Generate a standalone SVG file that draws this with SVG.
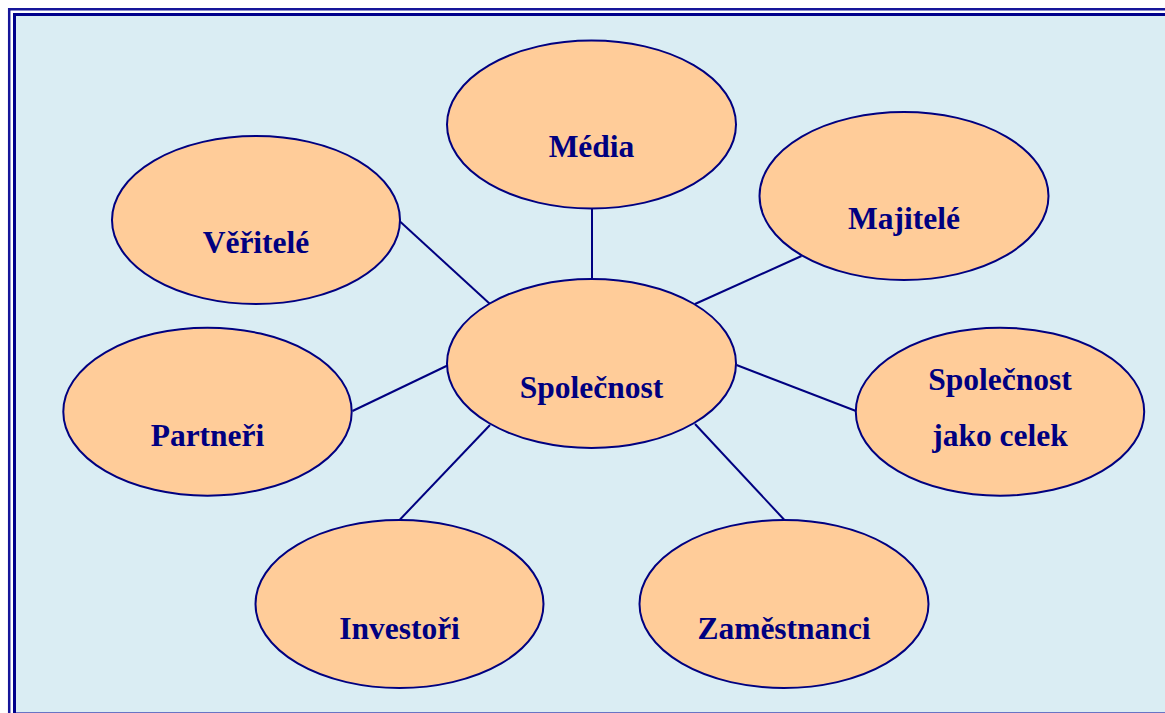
<svg xmlns="http://www.w3.org/2000/svg" width="1165" height="713" viewBox="0 0 1165 713">
  <style>
    .node ellipse { fill: #FFCC99; stroke: #000080; stroke-width: 2; }
    .node text { font-family: "Liberation Serif", "Times New Roman", serif; font-weight: bold; font-size: 31.5px; fill: #000080; text-anchor: middle; }
    #connectors line { stroke: #000080; stroke-width: 2; }
  </style>

  <!-- page and frame -->
  <rect x="0" y="0" width="1165" height="713" fill="#FFFFFF"/>
  <rect x="16" y="16" width="1160" height="700" fill="#DAEDF3"/>
  <path d="M9.2,714 V9.2 H1170" fill="none" stroke="#16169A" stroke-width="2.5"/>
  <path d="M14.5,714 V14.5 H1170" fill="none" stroke="#00008B" stroke-width="3"/>
  <line x1="16" y1="712.5" x2="1165" y2="712.5" stroke="#6A74C4" stroke-width="1"/>

  <!-- connectors from the centre to each surrounding node -->
  <g id="connectors">
    <line x1="400" y1="221.5" x2="490" y2="304"/>
    <line x1="592" y1="208" x2="592" y2="280"/>
    <line x1="801.5" y1="256" x2="695" y2="304"/>
    <line x1="352.5" y1="411" x2="448.5" y2="365"/>
    <line x1="736.5" y1="365" x2="856" y2="411"/>
    <line x1="400" y1="519.5" x2="490" y2="425"/>
    <line x1="695" y1="424" x2="784" y2="519.5"/>
  </g>

  <g id="node-spolecnost" class="node">
    <ellipse cx="591.5" cy="363.5" rx="144.5" ry="84.5"/>
    <text x="591.5" y="398">Společnost</text>
  </g>
  <g id="node-media" class="node">
    <ellipse cx="591.5" cy="124.5" rx="144.5" ry="84"/>
    <text x="591.5" y="157">Média</text>
  </g>
  <g id="node-majitele" class="node">
    <ellipse cx="904" cy="196" rx="144.5" ry="84"/>
    <text x="904" y="229">Majitelé</text>
  </g>
  <g id="node-veritele" class="node">
    <ellipse cx="256" cy="220" rx="144" ry="84"/>
    <text x="256" y="253">Věřitelé</text>
  </g>
  <g id="node-partneri" class="node">
    <ellipse cx="207.5" cy="411.7" rx="144.2" ry="84"/>
    <text x="207.5" y="446">Partneři</text>
  </g>
  <g id="node-spolecnost-celek" class="node">
    <ellipse cx="1000" cy="411.7" rx="144.2" ry="84"/>
    <text x="1000" y="390">Společnost</text>
    <text x="1000" y="446">jako celek</text>
  </g>
  <g id="node-investori" class="node">
    <ellipse cx="399.5" cy="604" rx="144" ry="84"/>
    <text x="399.5" y="638.5">Investoři</text>
  </g>
  <g id="node-zamestnanci" class="node">
    <ellipse cx="784" cy="604" rx="144.5" ry="84"/>
    <text x="784" y="638.5">Zaměstnanci</text>
  </g>
</svg>
